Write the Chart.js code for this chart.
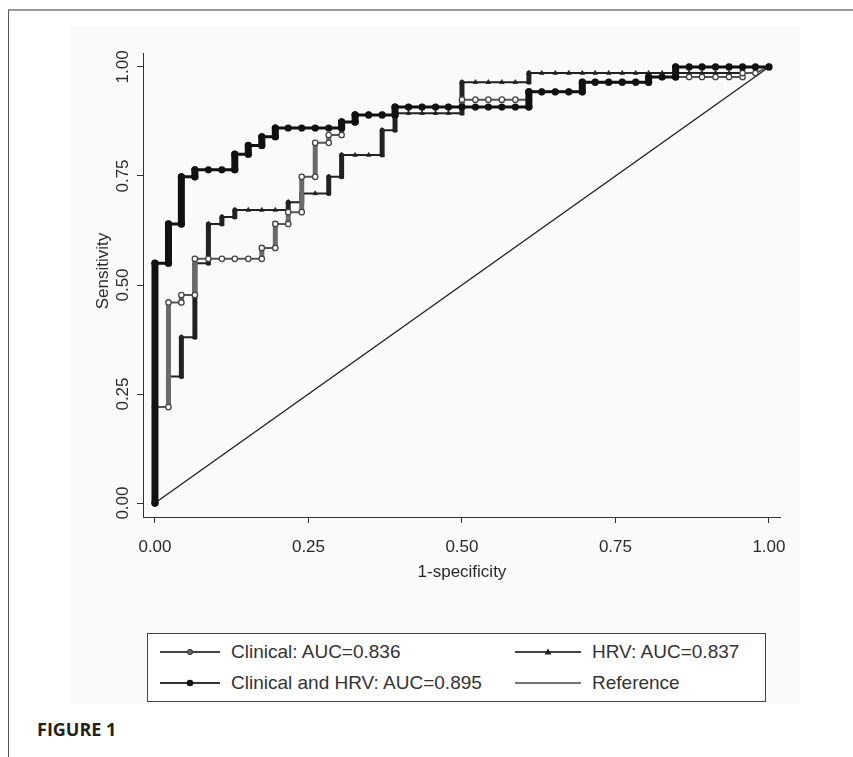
<!DOCTYPE html>
<html lang="en">
<head>
<meta charset="UTF-8">
<title>ROC curves - Figure 1</title>
<script src="https://cdn.jsdelivr.net/npm/chart.js@4.4.1/dist/chart.umd.min.js"></script>
<style>
  body { margin: 0; background: #fff; font-family: 'Liberation Sans', Arial, sans-serif; }
  #page { position: relative; width: 853px; height: 757px; overflow: hidden; }
  #frame { position: absolute; left: 8px; top: 9px; right: -2px; bottom: -2px;
           border-top: 2px solid #9a9a9a; border-left: 1.5px solid #555; }
  #scan { position: absolute; left: 70px; top: 26px; width: 730px; height: 678px; background: #fafafa; }
  #chartBox { position: absolute; left: 0; top: 0; width: 853px; height: 600px; }
  #legend { position: absolute; left: 147px; top: 633px; width: 617px; height: 67px;
            border: 1.5px solid #444; background: #fff; }
  .item { position: absolute; display: flex; align-items: center; height: 24px;
          font-size: 19px; color: #333; white-space: nowrap; }
  .item svg { margin-right: 11px; }
  #figLabel { position: absolute; left: 37px; top: 717px; font-family: 'Open Sans', 'DejaVu Sans', sans-serif;
              font-weight: 700; font-size: 18px; color: #231f20; }
</style>
</head>
<body>
<div id="page">
  <div id="frame"></div>
  <div id="scan"></div>
  <div id="chartBox"><canvas id="roc"></canvas></div>
  <div id="legend">
    <div class="item" style="left:12px; top:6px;">
      <svg width="60" height="10"><line x1="0" y1="5" x2="60" y2="5" stroke="#444" stroke-width="2"/><circle cx="30" cy="5" r="2.6" fill="#666" stroke="#333" stroke-width="1"/></svg>
      <span>Clinical: AUC=0.836</span>
    </div>
    <div class="item" style="left:367px; top:6px;">
      <svg width="66" height="10"><line x1="0" y1="5" x2="66" y2="5" stroke="#444" stroke-width="2"/><polygon points="33,1.5 36.5,7.5 29.5,7.5" fill="#222"/></svg>
      <span>HRV: AUC=0.837</span>
    </div>
    <div class="item" style="left:12px; top:37px;">
      <svg width="60" height="10"><line x1="0" y1="5" x2="60" y2="5" stroke="#333" stroke-width="2"/><circle cx="30" cy="5" r="3.3" fill="#111"/></svg>
      <span>Clinical and HRV: AUC=0.895</span>
    </div>
    <div class="item" style="left:367px; top:37px;">
      <svg width="66" height="10"><line x1="0" y1="5" x2="66" y2="5" stroke="#444" stroke-width="1.6"/></svg>
      <span>Reference</span>
    </div>
  </div>
  <div id="figLabel">FIGURE 1</div>
</div>

<script>
  // axis ticks
  const xTicks = [0, 0.25, 0.5, 0.75, 1];
  const xTickLabels = ['0.00', '0.25', '0.50', '0.75', '1.00'];
  const yTicks = [0, 0.25, 0.5, 0.75, 1];
  const yTickLabels = ['0.00', '0.25', '0.50', '0.75', '1.00'];

  // [1-specificity, sensitivity]
  const combined = [
    [0, 0], [0, 0.55], [0.022, 0.55], [0.022, 0.64], [0.043, 0.64], [0.043, 0.748],
    [0.065, 0.748], [0.065, 0.764], [0.087, 0.764], [0.109, 0.764], [0.13, 0.764],
    [0.13, 0.80], [0.152, 0.80], [0.152, 0.82], [0.174, 0.82], [0.174, 0.84],
    [0.196, 0.84], [0.196, 0.86], [0.217, 0.86], [0.239, 0.86], [0.261, 0.86],
    [0.283, 0.86], [0.304, 0.86], [0.304, 0.874], [0.326, 0.874], [0.326, 0.89],
    [0.348, 0.89], [0.37, 0.89], [0.391, 0.89], [0.391, 0.908], [0.413, 0.908],
    [0.435, 0.908], [0.457, 0.908], [0.478, 0.908], [0.5, 0.908], [0.522, 0.908],
    [0.543, 0.908], [0.565, 0.908], [0.587, 0.908], [0.609, 0.908], [0.609, 0.943],
    [0.63, 0.943], [0.652, 0.943], [0.674, 0.943], [0.696, 0.943], [0.696, 0.965],
    [0.717, 0.965], [0.739, 0.965], [0.761, 0.965], [0.783, 0.965], [0.804, 0.965],
    [0.804, 0.977], [0.826, 0.977], [0.848, 0.977], [0.848, 1], [0.87, 1],
    [0.891, 1], [0.913, 1], [0.935, 1], [0.957, 1], [0.978, 1], [1, 1]
  ];

  const clinical = [
    [0, 0], [0, 0.22], [0.022, 0.22], [0.022, 0.46], [0.043, 0.46], [0.043, 0.477],
    [0.065, 0.477], [0.065, 0.56], [0.087, 0.56], [0.109, 0.56], [0.13, 0.56],
    [0.152, 0.56], [0.174, 0.56], [0.174, 0.585], [0.196, 0.585], [0.196, 0.64],
    [0.217, 0.64], [0.217, 0.667], [0.239, 0.667], [0.239, 0.748], [0.261, 0.748],
    [0.261, 0.826], [0.283, 0.826], [0.283, 0.844], [0.304, 0.844], [0.304, 0.874],
    [0.326, 0.874], [0.326, 0.89], [0.348, 0.89], [0.37, 0.89], [0.391, 0.89],
    [0.391, 0.908], [0.413, 0.908], [0.435, 0.908], [0.457, 0.908], [0.478, 0.908],
    [0.5, 0.908], [0.5, 0.925], [0.522, 0.925], [0.543, 0.925], [0.565, 0.925],
    [0.587, 0.925], [0.609, 0.925], [0.609, 0.943], [0.63, 0.943], [0.652, 0.943],
    [0.674, 0.943], [0.696, 0.943], [0.696, 0.965], [0.717, 0.965], [0.739, 0.965],
    [0.761, 0.965], [0.783, 0.965], [0.804, 0.965], [0.804, 0.977], [0.826, 0.977],
    [0.848, 0.977], [0.87, 0.977], [0.891, 0.977], [0.913, 0.977], [0.935, 0.977],
    [0.957, 0.977], [0.957, 0.986], [0.978, 0.986], [1, 1]
  ];

  const hrv = [
    [0, 0], [0, 0.22], [0.022, 0.22], [0.022, 0.29], [0.043, 0.29], [0.043, 0.38],
    [0.065, 0.38], [0.065, 0.55], [0.087, 0.55], [0.087, 0.64], [0.109, 0.64],
    [0.109, 0.656], [0.13, 0.656], [0.13, 0.672], [0.152, 0.672], [0.174, 0.672],
    [0.196, 0.672], [0.217, 0.672], [0.217, 0.69], [0.239, 0.69], [0.239, 0.71],
    [0.261, 0.71], [0.283, 0.71], [0.283, 0.748], [0.304, 0.748], [0.304, 0.798],
    [0.326, 0.798], [0.348, 0.798], [0.37, 0.798], [0.37, 0.855], [0.391, 0.855],
    [0.391, 0.894], [0.413, 0.894], [0.435, 0.894], [0.457, 0.894], [0.478, 0.894],
    [0.5, 0.894], [0.5, 0.965], [0.522, 0.965], [0.543, 0.965], [0.565, 0.965],
    [0.587, 0.965], [0.609, 0.965], [0.609, 0.986], [0.63, 0.986], [0.652, 0.986],
    [0.674, 0.986], [0.696, 0.986], [0.717, 0.986], [0.739, 0.986], [0.761, 0.986],
    [0.783, 0.986], [0.804, 0.986], [0.826, 0.986], [0.848, 0.986], [0.87, 0.986],
    [0.891, 0.986], [0.913, 0.986], [0.935, 0.986], [0.957, 0.986], [0.957, 1],
    [0.978, 1], [1, 1]
  ];

  const referenceLine = [[0, 0], [1, 1]];

  const fontFamily = "'Liberation Sans', Arial, sans-serif";
  const textColor = '#2a2a2a';
  const axisColor = '#333';

  function toPoints(arr)
  {
    return arr.map(p => ({ x: p[0], y: p[1] }));
  }

  // stacked markers on vertical runs look like a thick bar
  function isVertical(c)
  {
    return Math.abs(c.p0.x - c.p1.x) < 0.5;
  }

  const rotatedLabels = {
    id: 'rotatedLabels',
    afterDraw(chart)
    {
      const { ctx, scales: { x, y } } = chart;
      ctx.save();
      ctx.fillStyle = textColor;
      ctx.textAlign = 'center';
      ctx.textBaseline = 'middle';
      ctx.font = '17px ' + fontFamily;
      yTicks.forEach((v, i) =>
      {
        ctx.save();
        ctx.translate(123, y.getPixelForValue(v));
        ctx.rotate(-Math.PI / 2);
        ctx.fillText(yTickLabels[i], 0, 0);
        ctx.restore();
      });
      ctx.save();
      ctx.translate(103, 271);
      ctx.rotate(-Math.PI / 2);
      ctx.fillText('Sensitivity', 0, 0);
      ctx.restore();
      ctx.fillText('1-specificity', x.getPixelForValue(0.5), 572);
      ctx.restore();
    }
  };

  const ctx = document.getElementById('roc').getContext('2d');
  new Chart(ctx, {
    type: 'scatter',
    data: {
      datasets: [
        {
          label: 'Clinical and HRV: AUC=0.895',
          data: toPoints(combined),
          showLine: true,
          borderColor: '#111',
          borderWidth: 3,
          borderCapStyle: 'round',
          borderJoinStyle: 'round',
          pointRadius: 3.6,
          pointBackgroundColor: '#111',
          pointBorderWidth: 0,
          segment: { borderWidth: c => isVertical(c) ? 7 : 3 }
        },
        {
          label: 'Clinical: AUC=0.836',
          data: toPoints(clinical),
          showLine: true,
          borderColor: '#555',
          borderWidth: 2,
          borderCapStyle: 'round',
          borderJoinStyle: 'round',
          pointRadius: 2.7,
          pointBackgroundColor: '#fff',
          pointBorderColor: '#444',
          pointBorderWidth: 1.3,
          segment: {
            borderWidth: c => isVertical(c) ? 5 : 2,
            borderColor: c => isVertical(c) ? '#6a6a6a' : '#555'
          }
        },
        {
          label: 'HRV: AUC=0.837',
          data: toPoints(hrv),
          showLine: true,
          borderColor: '#222',
          borderWidth: 2,
          borderCapStyle: 'round',
          borderJoinStyle: 'round',
          pointStyle: 'triangle',
          pointRadius: 2.6,
          pointBackgroundColor: '#222',
          pointBorderColor: '#222',
          pointBorderWidth: 0.8,
          segment: { borderWidth: c => isVertical(c) ? 5 : 2 }
        },
        {
          label: 'Reference',
          data: toPoints(referenceLine),
          showLine: true,
          borderColor: '#222',
          borderWidth: 1.4,
          pointRadius: 0
        }
      ]
    },
    options: {
      responsive: true,
      maintainAspectRatio: false,
      animation: false,
      layout: { padding: { top: 53, right: 73, left: 0, bottom: 0 } },
      plugins: {
        legend: { display: false },
        tooltip: { enabled: false }
      },
      scales: {
        x: {
          type: 'linear',
          min: -0.0195,
          max: 1.018,
          afterBuildTicks: s => { s.ticks = xTicks.map(v => ({ value: v })); },
          afterFit: s => { s.height = 83; },
          grid: { drawOnChartArea: false, tickLength: 6, color: axisColor },
          border: { color: axisColor, width: 1 },
          ticks: {
            callback: (v, i) => xTickLabels[i],
            font: { size: 17, family: fontFamily },
            color: textColor,
            padding: 14,
            maxRotation: 0
          }
        },
        y: {
          type: 'linear',
          min: -0.032,
          max: 1.032,
          afterBuildTicks: s => { s.ticks = yTicks.map(v => ({ value: v })); },
          afterFit: s => { s.width = 143; },
          grid: { drawOnChartArea: false, tickLength: 6, color: axisColor },
          border: { color: axisColor, width: 1 },
          ticks: { display: false }
        }
      }
    },
    plugins: [rotatedLabels]
  });
</script>
</body>
</html>
